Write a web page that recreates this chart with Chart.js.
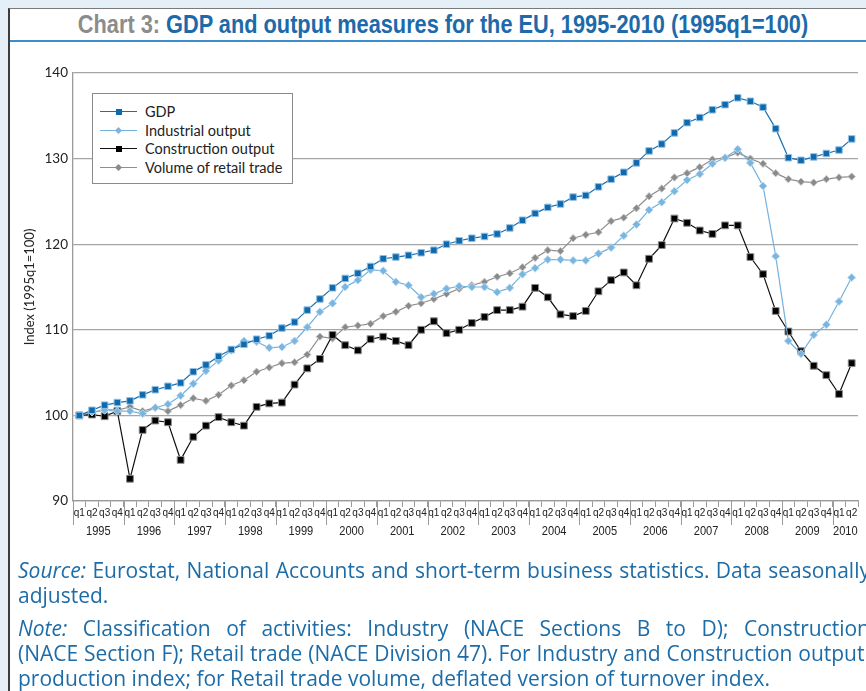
<!DOCTYPE html>
<html>
<head>
<meta charset="utf-8">
<title>Chart 3: GDP and output measures for the EU</title>
<script src="https://cdn.jsdelivr.net/npm/chart.js@4.4.1/dist/chart.umd.min.js"></script>
<style>
  html, body { margin: 0; padding: 0; }
  body { width: 866px; height: 691px; overflow: hidden; background: #e5eff7; position: relative; }
  #panel { position: absolute; left: 8px; top: 8px; width: 880px; height: 700px; background: #fff;
           border-left: 2px solid #3c3c3c; border-top: 1px solid #7a7a7a; }
  #title { position: absolute; left: 15px; width: 856px; top: 10px; text-align: center; white-space: nowrap;
           font: bold 25px "Liberation Sans", sans-serif; color: #1d6aaa;
           transform: scaleX(0.87); transform-origin: 50% 50%; }
  #title span { color: #8c8c8c; }
  #rule { position: absolute; left: 10px; top: 40px; width: 856px; height: 2px; background: #3d8ccb; }
  #wrap { position: absolute; left: 0; top: 0; width: 866px; height: 560px; }
  #legend { position: absolute; left: 92px; top: 93px; width: 199px; height: 89px; background: #fff;
            border: 1px solid #8a8a8a; font: 14.5px Lato, sans-serif; color: #222; }
  .row { position: absolute; left: 0; height: 18px; width: 199px; }
  .row .ln { position: absolute; left: 7px; top: 8px; width: 37px; height: 1.3px; }
  .row .mk { position: absolute; }
  .row .tx { position: absolute; left: 52px; top: 0; line-height: 18px; white-space: nowrap; }
  #notes { position: absolute; left: 18px; top: 558px; width: 852px; font: 21px "Open Sans", sans-serif;
           color: #1c6ca8; line-height: 25px; }
  #notes p { margin: 0 0 8px 0; }
  #notes .j { display: block; white-space: nowrap; text-align: justify; text-align-last: justify; }
  #notes .l { display: block; white-space: nowrap; }
</style>
</head>
<body>
<div id="panel"></div>
<div id="title"><span>Chart 3:</span> GDP and output measures for the EU, 1995-2010 (1995q1=100)</div>
<div id="rule"></div>
<div id="wrap"><canvas id="gdpChart" width="866" height="560"></canvas></div>
<div id="legend"></div>
<div id="notes">
  <p><span class="j"><i>Source:</i> Eurostat, National Accounts and short-term business statistics. Data seasonally</span><span class="l">adjusted.</span></p>
  <p><span class="j"><i>Note:</i> Classification of activities: Industry (NACE Sections B to D); Construction</span><span class="j">(NACE Section F); Retail trade (NACE Division 47). For Industry and Construction output:</span><span class="l">production index; for Retail trade volume, deflated version of turnover index.</span></p>
</div>
<script>
// quarters 1995q1 - 2010q2
const categories = [
  '1995q1', '1995q2', '1995q3', '1995q4', '1996q1', '1996q2', '1996q3', '1996q4',
  '1997q1', '1997q2', '1997q3', '1997q4', '1998q1', '1998q2', '1998q3', '1998q4',
  '1999q1', '1999q2', '1999q3', '1999q4', '2000q1', '2000q2', '2000q3', '2000q4',
  '2001q1', '2001q2', '2001q3', '2001q4', '2002q1', '2002q2', '2002q3', '2002q4',
  '2003q1', '2003q2', '2003q3', '2003q4', '2004q1', '2004q2', '2004q3', '2004q4',
  '2005q1', '2005q2', '2005q3', '2005q4', '2006q1', '2006q2', '2006q3', '2006q4',
  '2007q1', '2007q2', '2007q3', '2007q4', '2008q1', '2008q2', '2008q3', '2008q4',
  '2009q1', '2009q2', '2009q3', '2009q4', '2010q1', '2010q2'
];
const years = ['1995', '1996', '1997', '1998', '1999', '2000', '2001', '2002',
               '2003', '2004', '2005', '2006', '2007', '2008', '2009', '2010'];

const gdp = [
  100.0, 100.6, 101.2, 101.5, 101.7, 102.4, 103.0, 103.4,
  103.8, 105.1, 105.9, 106.9, 107.7, 108.3, 108.9, 109.3,
  110.2, 110.9, 112.3, 113.6, 114.9, 116.0, 116.6, 117.4,
  118.3, 118.5, 118.7, 119.0, 119.3, 120.0, 120.4, 120.7,
  120.9, 121.2, 121.9, 122.8, 123.6, 124.3, 124.7, 125.5,
  125.7, 126.7, 127.6, 128.4, 129.5, 130.9, 131.7, 133.0,
  134.2, 134.8, 135.7, 136.3, 137.1, 136.7, 136.0, 133.5,
  130.1, 129.8, 130.2, 130.6, 131.0, 132.3
];
const industrialOutput = [
  100.0, 100.4, 100.6, 100.5, 100.5, 100.2, 100.9, 101.3,
  102.3, 103.7, 105.2, 106.4, 107.6, 108.7, 108.6, 107.9,
  108.0, 108.7, 110.3, 112.1, 113.1, 115.0, 115.8, 117.0,
  116.9, 115.6, 115.2, 113.8, 114.2, 114.8, 115.1, 115.0,
  115.0, 114.4, 114.9, 116.5, 117.2, 118.2, 118.2, 118.1,
  118.1, 118.9, 119.6, 121.0, 122.3, 124.0, 124.9, 126.2,
  127.5, 128.2, 129.4, 130.1, 131.1, 129.5, 126.8, 118.6,
  108.7, 107.2, 109.4, 110.6, 113.3, 116.1
];
const constructionOutput = [
  100.0, 100.1, 99.9, 100.5, 92.6, 98.3, 99.4, 99.2,
  94.8, 97.5, 98.8, 99.8, 99.2, 98.8, 101.0, 101.4,
  101.5, 103.6, 105.5, 106.6, 109.4, 108.2, 107.6, 108.9,
  109.2, 108.7, 108.2, 110.0, 111.0, 109.6, 110.0, 110.8,
  111.5, 112.3, 112.3, 112.7, 114.9, 113.8, 111.8, 111.6,
  112.2, 114.5, 115.8, 116.7, 115.2, 118.3, 119.9, 123.0,
  122.5, 121.6, 121.2, 122.2, 122.2, 118.5, 116.5, 112.2,
  109.8, 107.5, 105.8, 104.7, 102.5, 106.1
];
const retailTrade = [
  100.0, 100.3, 100.7, 100.6, 101.0, 100.5, 100.9, 100.5,
  101.2, 102.0, 101.7, 102.4, 103.5, 104.1, 105.1, 105.6,
  106.1, 106.2, 107.1, 109.2, 109.0, 110.3, 110.5, 110.7,
  111.6, 112.1, 112.8, 113.1, 113.6, 114.2, 114.8, 115.2,
  115.6, 116.2, 116.6, 117.3, 118.4, 119.3, 119.2, 120.7,
  121.1, 121.4, 122.7, 123.1, 124.2, 125.6, 126.5, 127.8,
  128.3, 129.0, 129.9, 130.1, 130.7, 130.0, 129.4, 128.3,
  127.6, 127.3, 127.2, 127.6, 127.8, 127.9
];

const series = [
  { label: 'GDP', data: gdp, line: '#1a6fb3', fill: '#0f69ad', edge: '#93c1e3', style: 'rect', radius: 4.6 },
  { label: 'Industrial output', data: industrialOutput, line: '#74b2dc', fill: '#79b5de', edge: '#bcdaf0', style: 'rectRot', radius: 4 },
  { label: 'Construction output', data: constructionOutput, line: '#111111', fill: '#000000', edge: '#8a8a8a', style: 'rect', radius: 4.8 },
  { label: 'Volume of retail trade', data: retailTrade, line: '#8e8e8e', fill: '#8a8a8a', edge: '#c4c4c4', style: 'rectRot', radius: 3.7 }
];

// year labels and long year separators under the quarter ticks
const yearAxisPlugin = {
  id: 'yearAxis',
  afterDraw(chart) {
    const x = chart.scales.x;
    const ctx = chart.ctx;
    const base = chart.chartArea.bottom;
    const step = x.getPixelForValue(1) - x.getPixelForValue(0);
    ctx.save();
    ctx.strokeStyle = '#9a9a9a';
    ctx.lineWidth = 1;
    ctx.fillStyle = '#222';
    ctx.font = '13.5px "Liberation Sans"';
    ctx.textAlign = 'center';
    ctx.textBaseline = 'middle';
    years.forEach(function (year, k) {
      const first = k * 4;
      const last = Math.min(first + 3, categories.length - 1);
      const left = x.getPixelForValue(first) - step / 2;
      const right = x.getPixelForValue(last) + step / 2;
      ctx.beginPath();
      ctx.moveTo(Math.round(left) + 0.5, base);
      ctx.lineTo(Math.round(left) + 0.5, base + 24);
      ctx.stroke();
      // narrow the figures like the condensed face of the original
      const cx = (left + right) / 2;
      ctx.save();
      ctx.translate(cx, base + 30);
      ctx.scale(0.82, 1);
      ctx.fillText(year, 0, 0);
      ctx.restore();
    });
    ctx.restore();
  }
};

const ctx = document.getElementById('gdpChart').getContext('2d');
new Chart(ctx, {
  type: 'line',
  data: {
    labels: categories,
    datasets: series.map(function (s) {
      return {
        label: s.label,
        data: s.data,
        borderColor: s.line,
        borderWidth: 1.2,
        backgroundColor: s.fill,
        pointStyle: s.style,
        pointRadius: s.radius,
        pointBackgroundColor: s.fill,
        pointBorderColor: s.edge,
        pointBorderWidth: 1,
        tension: 0,
        fill: false
      };
    })
  },
  options: {
    responsive: false,
    animation: false,
    layout: { padding: { left: 10, top: 73, right: 8, bottom: 15 } },
    plugins: { legend: { display: false }, tooltip: { enabled: false } },
    scales: {
      x: {
        offset: true,
        grid: { offset: true, drawOnChartArea: false, tickLength: 6, color: '#9a9a9a' },
        border: { color: '#9a9a9a', width: 1.3 },
        ticks: {
          autoSkip: false,
          maxRotation: 0,
          padding: 0,
          color: '#222',
          font: { family: 'Liberation Sans', size: 10 },
          callback: function (value) { return this.getLabelForValue(value).slice(4); }
        },
        afterFit: function (scale) { scale.height = 44; }
      },
      y: {
        min: 90,
        max: 140,
        ticks: { stepSize: 10, padding: 5, color: '#222', font: { family: 'Lato', size: 13.5 } },
        grid: { color: '#a5a5a5', lineWidth: 1.3, drawTicks: false },
        border: { color: '#9a9a9a', width: 1.3 },
        title: {
          display: true,
          text: 'Index (1995q1=100)',
          color: '#222',
          font: { family: 'Lato', size: 13 },
          padding: { top: 12, bottom: 0 }
        },
        afterFit: function (scale) { scale.width = 63; }
      }
    }
  },
  plugins: [yearAxisPlugin]
});

// legend box inside the plot
const legend = document.getElementById('legend');
series.forEach(function (s, i) {
  const row = document.createElement('div');
  row.className = 'row';
  row.style.top = (9 + i * 18.6) + 'px';
  const size = s.style === 'rect' ? 6 : 5;
  const turn = s.style === 'rect' ? '' : 'transform:rotate(45deg);';
  row.innerHTML =
    '<span class="ln" style="background:' + s.line + '"></span>' +
    '<span class="mk" style="left:' + (25.5 - size / 2) + 'px;top:' + (8.6 - size / 2) + 'px;width:' + size +
    'px;height:' + size + 'px;background:' + s.fill + ';' + turn + '"></span>' +
    '<span class="tx">' + s.label + '</span>';
  legend.appendChild(row);
});
</script>
</body>
</html>
